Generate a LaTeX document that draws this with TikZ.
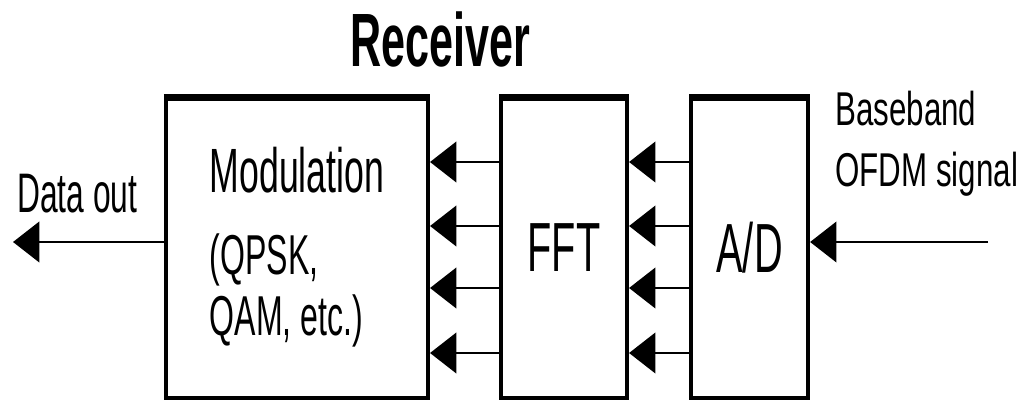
\documentclass[tikz,border=0pt]{standalone}
\usepackage{fontspec}
\setmainfont{Liberation Sans}[FakeStretch=0.57]
\newfontfamily\sigfont{Liberation Sans}[FakeStretch=0.66]
\usetikzlibrary{arrows.meta,positioning}

\begin{document}
\begin{tikzpicture}[>={Triangle[length=15pt,width=23pt]}]
  \tikzset{block/.style={draw,line width=2.3pt,minimum height=6.02cm,align=center},
    sig/.style={->,line width=1.7pt}}
  \useasboundingbox (0,0) rectangle (20.46,8.02);
  % the three stages
  \node[block,minimum width=5.24cm,align=left,font=\fontsize{32}{35}\selectfont] (mod) at (5.94,3.07)
    {{\fontsize{35.6}{35}\selectfont Modulation}\\[11.5pt](QPSK,\\QAM, etc.)};
  \node[block,minimum width=2.52cm,right=1.38cm of mod,font=\fontsize{39.6}{44}\selectfont] (fft) {FFT};
  \node[block,minimum width=2.34cm,right=1.2cm of fft,font=\fontsize{39.6}{44}\selectfont] (ad) {A/D};
  \foreach \b in {mod,fft,ad}
    \draw[line width=4pt] ([yshift=-1.5pt]\b.north west) -- ([yshift=-1.5pt]\b.north east);
  % labels
  \node[anchor=base,font=\bfseries\fontsize{43}{48}\selectfont] (title) at (8.8,6.68) {Receiver};
  \node[anchor=base west,font=\fontsize{31.7}{36}\selectfont,inner sep=0pt] (outlbl) at (0.34,3.76) {Data out};
  \node[anchor=base west,align=left,font=\sigfont\fontsize{27}{35}\selectfont,inner sep=0pt] (inlbl) at (16.7,4.28)
    {Baseband\\OFDM signal};
  % signal paths
  \coordinate (in) at (19.76,3.18);
  \coordinate (out) at (0.26,3.18);
  \draw[sig] (in) -- (ad.east |- in);
  \draw[sig] (mod.west |- out) -- (out);
  \foreach \y in {4.78,3.50,2.26,0.96} {
    \draw[sig] (ad.west |- 0,\y) -- (fft.east |- 0,\y);
    \draw[sig] (fft.west |- 0,\y) -- (mod.east |- 0,\y);
  }
\end{tikzpicture}
\end{document}
